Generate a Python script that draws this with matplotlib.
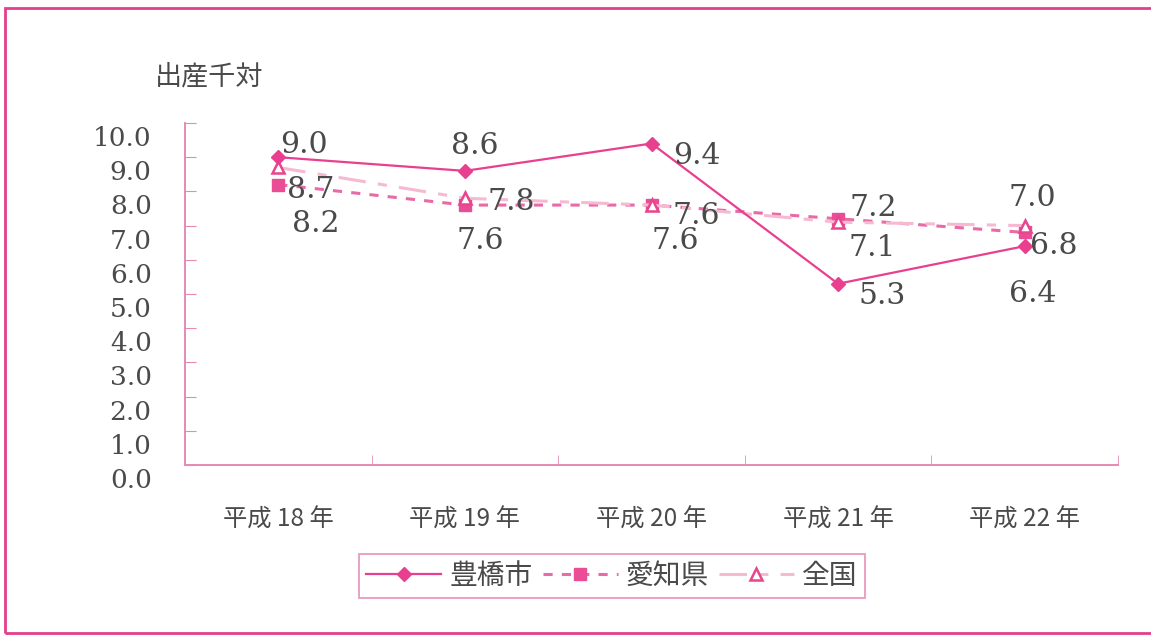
"""Birth rate per 1000 (出産千対) line chart: 豊橋市 / 愛知県 / 全国."""

import matplotlib

matplotlib.use("Agg")
import matplotlib.pyplot as plt
import matplotlib.transforms as mtransforms
from matplotlib.patches import Rectangle

# data
years = ["平成 18 年", "平成 19 年", "平成 20 年", "平成 21 年", "平成 22 年"]
toyohashi = [9.0, 8.6, 9.4, 5.3, 6.4]
aichi = [8.2, 7.6, 7.6, 7.2, 6.8]
zenkoku = [8.7, 7.8, 7.6, 7.1, 7.0]

# label offsets in pixels (dx, dy) relative to each point
toyohashi_off = [(26, 12), (10, 25), (45, -12), (44, -12), (8, -48)]
aichi_off = [(37, -39), (15, -36), (24, -36), (35, 11), (29, -14)]
zenkoku_off = [(32, -23), (46, -4), (45, -11), (34, -26), (8, 28)]

JP = ["Noto Sans CJK JP", "DejaVu Sans"]
NUM = ["DejaVu Serif"]
TEXT = "#4a4a4a"
AXIS = "#e58ab5"
C_TOYO = "#e8408f"
C_AICHI = "#ea4c95"
C_AICHI_LINE = "#e86aa6"
C_ZEN_LINE = "#f6b9d2"
C_ZEN_MK = "#e8458f"

fig = plt.figure(figsize=(11.51, 6.35), dpi=100, facecolor="white")
ax = fig.add_axes([185 / 1151, 1 - 465 / 635, (1118 - 185) / 1151, (465 - 123) / 635])

x = range(len(years))
ax.plot(x, toyohashi, color=C_TOYO, lw=1.6, marker="D", ms=7,
        mfc=C_TOYO, mec=C_TOYO, label="豊橋市", zorder=4)
ax.plot(x, aichi, color=C_AICHI_LINE, lw=2.2, ls=(0, (3, 3)), marker="s", ms=8,
        mfc=C_AICHI, mec=C_AICHI, label="愛知県", zorder=3)
ax.plot(x, zenkoku, color=C_ZEN_LINE, lw=2.2, ls=(0, (9, 4, 3, 4)), marker="^", ms=9,
        mfc="white", mec=C_ZEN_MK, mew=1.8, label="全国", zorder=3)

for vals, offs in ((toyohashi, toyohashi_off), (aichi, aichi_off), (zenkoku, zenkoku_off)):
    for i, (v, (dx, dy)) in enumerate(zip(vals, offs)):
        ax.annotate(f"{v:.1f}", (i, v), xytext=(dx, dy), textcoords="offset pixels",
                    ha="center", va="center", fontsize=21.5, family=NUM, color=TEXT,
                    zorder=5)

ax.set_xlim(-0.5, len(years) - 0.5)
ax.set_ylim(0, 10)
ax.set_yticks([i for i in range(11)])
ax.set_yticklabels([f"{i:.1f}" for i in range(11)], family=NUM, fontsize=19, color=TEXT)
ax.set_xticks([i for i in x])
ax.set_xticklabels(years, family=JP, fontsize=17.5, color=TEXT)
ax.set_xticks([i + 0.5 for i in range(len(years))], minor=True)

ax.tick_params(axis="y", direction="in", length=8, color=AXIS, pad=24)
ax.tick_params(axis="x", which="major", length=0, pad=30)
ax.tick_params(axis="x", which="minor", direction="in", length=7, color=AXIS)

# tick labels sit a bit lower than their ticks in the original
shift = mtransforms.ScaledTranslation(0, -13 / 100, fig.dpi_scale_trans)
for lab in ax.get_yticklabels():
    lab.set_transform(lab.get_transform() + shift)

for side in ("top", "right"):
    ax.spines[side].set_visible(False)
for side in ("left", "bottom"):
    ax.spines[side].set_color(AXIS)
    ax.spines[side].set_linewidth(1.4)

fig.text(155 / 1151, 1 - 77 / 635, "出産千対", family=JP, fontsize=19.5,
         color=TEXT, ha="left", va="center")

leg = fig.legend(loc="center", bbox_to_anchor=(612 / 1151, 1 - 576 / 635), ncol=3,
                 prop={"family": JP, "size": 20}, frameon=True, fancybox=False,
                 handlelength=2.7, columnspacing=0.35, handletextpad=0.3,
                 borderpad=0.25, borderaxespad=0)
leg.get_frame().set_edgecolor(AXIS)
leg.get_frame().set_linewidth(1.4)
for t in leg.get_texts():
    t.set_color(TEXT)

fig.patches.append(Rectangle((5 / 1151, 2 / 635), 1.05, 1 - 8 / 635 - 2 / 635,
                             transform=fig.transFigure, fill=False,
                             edgecolor="#e2408c", lw=2.0, clip_on=False))

fig.savefig("out.png", dpi=100, facecolor="white")
